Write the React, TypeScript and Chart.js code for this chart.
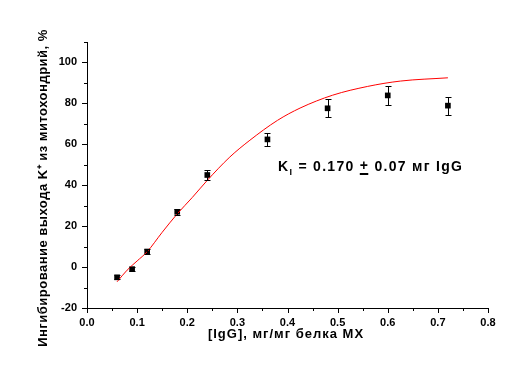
import React, { useEffect, useRef } from "react";
import { Chart, registerables } from "chart.js";

Chart.register(...registerables);

const xData = [0.06, 0.09, 0.12, 0.18, 0.24, 0.36, 0.48, 0.6, 0.72];
const yData = [-5, -1, 7.6, 27, 45, 62.4, 77.6, 83.9, 78.9];
const yErr = [1, 1, 1, 1.5, 2.4, 3.1, 4.4, 4.6, 4.4];

const fitX = [0.06, 0.08, 0.1, 0.12, 0.15, 0.18, 0.21, 0.24, 0.285, 0.325, 0.38, 0.425, 0.49, 0.56, 0.625, 0.72];
const fitY = [-7.2, -1.5, 3, 7.5, 17, 26, 34, 42.4, 53.8, 62, 71.7, 77.7, 84, 88.3, 90.9, 92.5];

const xTitle = "[IgG], мг/мг белка МХ";
const yTitle = "Ингибирование выхода K⁺ из митохондрий, %";
const annotK = "K";
const annotSub = "I";
const annotRest1 = " = 0.170 ";
const annotPm = "+";
const annotRest2 = " 0.07 мг IgG";

const FONT = "'Liberation Sans', Arial, sans-serif";

const overlay = {
  id: "overlay",
  afterDatasetsDraw(chart: any) {
    const ctx = chart.ctx;
    const xs = chart.scales.x;
    const ys = chart.scales.y;
    const area = chart.chartArea;
    ctx.save();
    ctx.strokeStyle = "#000";
    ctx.lineWidth = 1;
    // y ticks
    for (let v = -20; v <= 110; v += 10) {
      const py = Math.round(ys.getPixelForValue(v)) + 0.5;
      const len = v % 20 === 0 ? 5 : 3;
      ctx.beginPath();
      ctx.moveTo(area.left - len, py);
      ctx.lineTo(area.left, py);
      ctx.stroke();
    }
    // x ticks
    for (let i = 0; i <= 16; i++) {
      const v = i * 0.05;
      const px = Math.round(xs.getPixelForValue(v)) + 0.5;
      const len = i % 2 === 0 ? 5 : 3;
      ctx.beginPath();
      ctx.moveTo(px, area.bottom);
      ctx.lineTo(px, area.bottom + len);
      ctx.stroke();
    }
    // error bars
    for (let i = 0; i < xData.length; i++) {
      const px = Math.round(xs.getPixelForValue(xData[i])) + 0.5;
      const top = Math.round(ys.getPixelForValue(yData[i] + yErr[i])) + 0.5;
      const bot = Math.round(ys.getPixelForValue(yData[i] - yErr[i])) + 0.5;
      ctx.beginPath();
      ctx.moveTo(px, top);
      ctx.lineTo(px, bot);
      ctx.moveTo(px - 3, top);
      ctx.lineTo(px + 3, top);
      ctx.moveTo(px - 3, bot);
      ctx.lineTo(px + 3, bot);
      ctx.stroke();
    }
    ctx.fillStyle = "#000";
    // x title
    ctx.font = `bold 13px ${FONT}`;
    (ctx as any).letterSpacing = "1px";
    ctx.textAlign = "center";
    ctx.textBaseline = "middle";
    ctx.fillText(xTitle, 286, 334);
    // y title
    (ctx as any).letterSpacing = "0.5px";
    ctx.save();
    ctx.translate(43, 188);
    ctx.rotate(-Math.PI / 2);
    ctx.fillText(yTitle, 0, 0);
    ctx.restore();
    // annotation
    (ctx as any).letterSpacing = "1.3px";
    ctx.textAlign = "left";
    ctx.textBaseline = "alphabetic";
    let x = 278;
    const base = 171;
    ctx.font = `bold 14px ${FONT}`;
    ctx.fillText(annotK, x, base);
    x += ctx.measureText(annotK).width;
    ctx.font = `bold 9px ${FONT}`;
    ctx.fillText(annotSub, x, base + 4);
    x += ctx.measureText(annotSub).width;
    ctx.font = `bold 14px ${FONT}`;
    ctx.fillText(annotRest1, x, base);
    x += ctx.measureText(annotRest1).width;
    ctx.fillText(annotPm, x, base - 1);
    const pw = ctx.measureText(annotPm).width;
    ctx.fillRect(x, base + 2, pw - 1, 2);
    x += pw;
    ctx.fillText(annotRest2, x, base);
    ctx.restore();
  },
};

export default function App() {
  const ref = useRef<HTMLCanvasElement>(null);
  useEffect(() => {
    if (!ref.current) return;
    const chart = new Chart(ref.current, {
      type: "scatter",
      data: {
        datasets: [
          {
            data: fitX.map((x, i) => ({ x, y: fitY[i] })),
            showLine: true,
            borderColor: "#ff0000",
            borderWidth: 1,
            pointRadius: 0,
            cubicInterpolationMode: "monotone",
          } as any,
          {
            data: xData.map((x, i) => ({ x, y: yData[i] })),
            pointStyle: "rect",
            pointRadius: 4,
            backgroundColor: "#000",
            borderColor: "#000",
            borderWidth: 0,
          },
        ],
      },
      options: {
        animation: false,
        responsive: false,
        layout: { padding: { top: 42, right: 38, left: 0, bottom: 0 } },
        plugins: { legend: { display: false }, tooltip: { enabled: false } },
        scales: {
          x: {
            type: "linear",
            min: 0,
            max: 0.8,
            grid: { display: false, drawTicks: false },
            border: { display: true, color: "#000", width: 1 },
            ticks: {
              stepSize: 0.1,
              padding: 8,
              color: "#000",
              font: { family: FONT, size: 11, weight: "bold" },
              callback: (v: any) => Number(v).toFixed(1),
              maxRotation: 0,
            },
            afterFit: (s: any) => {
              s.height = 71;
            },
          },
          y: {
            type: "linear",
            min: -20,
            max: 110,
            grid: { display: false, drawTicks: false },
            border: { display: true, color: "#000", width: 1 },
            ticks: {
              stepSize: 20,
              padding: 10,
              color: "#000",
              font: { family: FONT, size: 11, weight: "bold" },
              callback: (v: any) => (Number(v) <= 100 ? String(v) : ""),
            },
            afterFit: (s: any) => {
              s.width = 87;
            },
          },
        },
      },
      plugins: [overlay],
    });
    return () => chart.destroy();
  }, []);
  return (
    <div style={{ position: "fixed", left: 0, top: 0, width: 526, height: 379, background: "#fff" }}>
      <canvas ref={ref} width={526} height={379} style={{ width: 526, height: 379 }} />
    </div>
  );
}
